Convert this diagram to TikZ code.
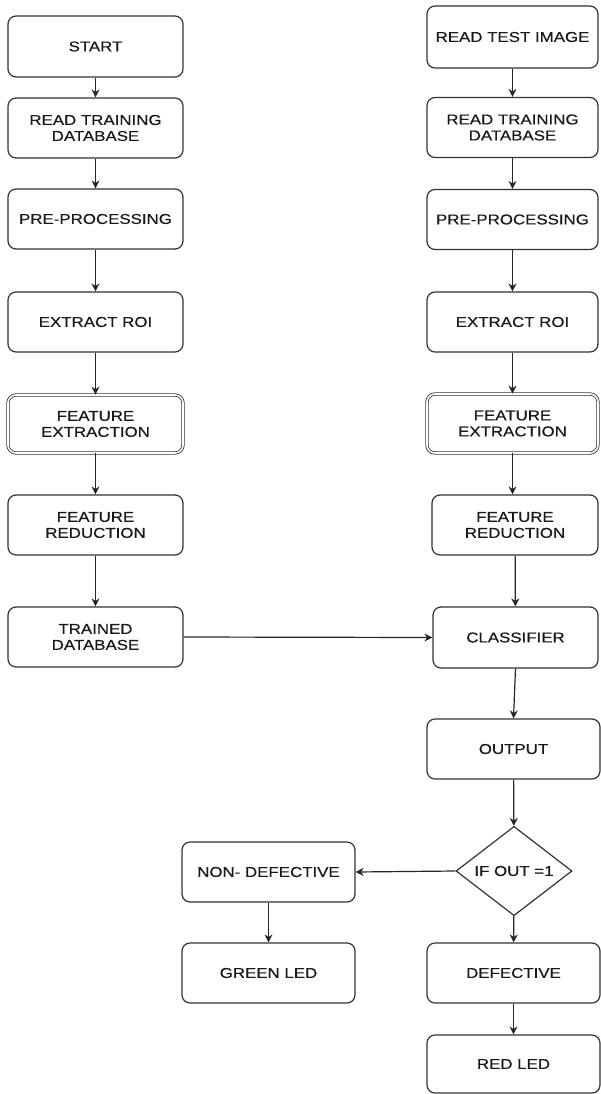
\documentclass[tikz,border=0pt]{standalone}
\usepackage{fontspec}
\setmainfont{Liberation Sans}[FakeStretch=1.18,FakeBold=0.4]
\usetikzlibrary{shapes.geometric,arrows.meta}
\begin{document}
\begin{tikzpicture}[x=1pt,y=-1pt,
  every node/.style={font=\fontsize{14.3}{16}\selectfont, text=black!90, align=center},
  box/.style={draw=black!80, line width=1.2pt, rounded corners=8pt, minimum height=60pt, inner sep=0pt},
  lbox/.style={box, minimum width=175pt},
  rbox/.style={box, minimum width=171pt},
  dbox/.style={double=white, double distance=1.6pt, line width=0.8pt},
  arr/.style={draw=black!85, line width=1.2pt, -{Stealth[length=8pt,width=8pt]}}
]
\useasboundingbox (0,0) rectangle (600,1094);
% left column
\node[lbox, minimum height=61pt] (start) at (95.5,46.5) {START};
\node[lbox] (rtd1) at (95.5,128) {READ TRAINING\\DATABASE};
\node[lbox] (pre1) at (95.5,219) {PRE-PROCESSING};
\node[lbox] (roi1) at (95.5,322) {EXTRACT ROI};
\node[lbox, dbox, minimum height=58pt] (fe1) at (95.5,424) {FEATURE\\EXTRACTION};
\node[lbox] (fr1) at (95.5,525) {FEATURE\\REDUCTION};
\node[lbox] (td) at (95.5,637) {TRAINED\\DATABASE};
% right column
\node[rbox, minimum height=62pt] (rti) at (512.5,37) {READ TEST IMAGE};
\node[rbox] (rtd2) at (512.5,127.5) {READ TRAINING\\DATABASE};
\node[rbox] (pre2) at (512.5,219.5) {PRE-PROCESSING};
\node[rbox] (roi2) at (512.5,322) {EXTRACT ROI};
\node[rbox, dbox, minimum height=59pt] (fe2) at (512.5,423.5) {FEATURE\\EXTRACTION};
\node[rbox, minimum width=166pt] (fr2) at (515,525) {FEATURE\\REDUCTION};
\node[rbox, minimum width=165pt, minimum height=61pt] (cls) at (515.5,637.5) {CLASSIFIER};
\node[rbox, minimum width=173pt] (out) at (513.5,749) {OUTPUT};
\node[draw=black!80, line width=1.2pt, diamond, minimum width=116pt, minimum height=81pt, inner sep=0pt] (dec) at (514,871) {IF OUT =1};
\node[rbox, minimum width=173pt] (def) at (513.5,973) {DEFECTIVE};
\node[rbox, minimum width=173pt, minimum height=58pt] (red) at (513.5,1064) {RED LED};
% bottom left
\node[box, minimum width=173pt] (nondef) at (268.5,872) {NON- DEFECTIVE};
\node[box, minimum width=173pt] (green) at (268.5,973) {GREEN LED};
% connectors
\draw[arr] (start) -- (rtd1);
\draw[arr] (rtd1) -- (pre1);
\draw[arr] (pre1) -- (roi1);
\draw[arr] (roi1) -- (fe1);
\draw[arr] (fe1) -- (fr1);
\draw[arr] (fr1) -- (td);
\draw[arr] (rti.south) -- (rtd2.north);
\draw[arr] (rtd2) -- (pre2);
\draw[arr] (pre2) -- (roi2);
\draw[arr] (roi2) -- (fe2);
\draw[arr] (fe2.south) -- (fr2.north -| fe2.south);
\draw[arr] (fr2) -- (cls);
\draw[arr] (cls.south) -- (out.north);
\draw[arr] (out) -- (dec);
\draw[arr] (dec) -- (def);
\draw[arr] (def) -- (red);
\draw[arr] (td.east) -- (cls.west);
\draw[arr] (dec.west) -- (nondef.east);
\draw[arr] (nondef) -- (green);
\end{tikzpicture}
\end{document}
